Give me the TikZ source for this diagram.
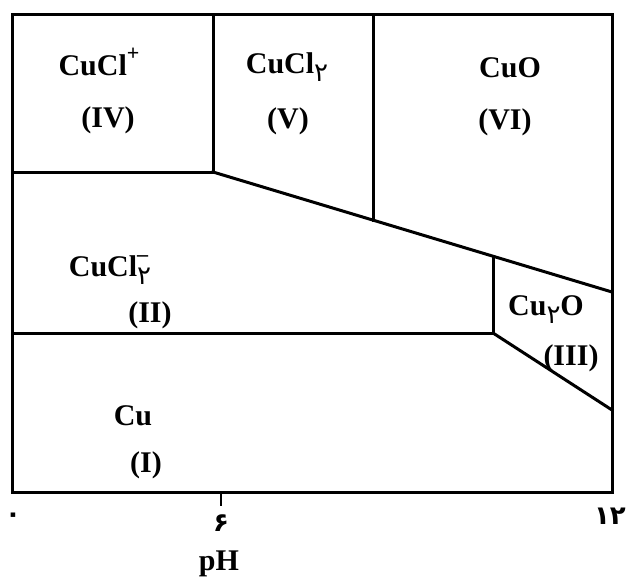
\documentclass[tikz,border=0pt]{standalone}
\usepackage{fontspec}
\setmainfont{Liberation Serif}
\newfontfamily\fa{DejaVu Sans}
\newcommand\persub[1]{\raisebox{-0.28em}{\fa\mdseries\fontsize{26}{26}\selectfont #1}}
\newcommand\persup[1]{\raisebox{0.5em}{\fontsize{22}{22}\selectfont #1}}
\tikzset{
  bnd/.style={line width=3pt, line cap=rect, line join=miter},
  lab/.style={font=\bfseries\fontsize{30}{32}\selectfont, inner sep=0pt, anchor=base},
  tick/.style={font=\fa\bfseries\fontsize{26}{28}\selectfont, inner sep=0pt, anchor=base},
}
\begin{document}
\begin{tikzpicture}[x=1pt,y=-1pt]
\useasboundingbox (0,0) rectangle (626,576);
% frame corners
\coordinate (tl) at (12,14);
\coordinate (tr) at (612,14);
\coordinate (br) at (612,492);
\coordinate (bl) at (12,492);
% internal vertices
\coordinate (a) at (213,14);
\coordinate (b) at (213,172);
\coordinate (l1) at (12,172);
\coordinate (c) at (373,14);
\coordinate (cs) at (373,220);
\coordinate (r1) at (612,292);
\coordinate (d) at (493,256);
\coordinate (e) at (493,333);
\coordinate (l2) at (12,333);
\coordinate (r2) at (612,410);
\coordinate (t6a) at (221,492);
\coordinate (t6b) at (221,506);
% boundaries
\draw[bnd] (tl) -- (tr) -- (br) -- (bl) -- cycle;
\draw[bnd] (a) -- (b) -- (l1);
\draw[bnd] (b) -- (r1);
\draw[bnd] (c) -- (cs);
\draw[bnd] (d) -- (e) -- (l2);
\draw[bnd] (e) -- (r2);
\draw[line width=1.5pt] (t6a) -- (t6b);
% labels
\node[lab] (n4) at (99,75) {CuCl\persup{+}};
\node[lab] (r4) at (108,127) {(IV)};
\node[lab] (n5) at (287,73) {CuCl\persub{۲}};
\node[lab] (r5) at (288,128) {(V)};
\node[lab] (n6) at (510,77) {CuO};
\node[lab] (r6) at (505,129) {(VI)};
\node[lab] (n2) at (110,276) {CuCl\rlap{\persup{–}}\persub{۲}};
\node[lab] (r2l) at (150,322) {(II)};
\node[lab] (n3) at (546,315) {Cu\persub{۲}O};
\node[lab] (r3) at (571,365) {(III)};
\node[lab] (n1) at (133,425) {Cu};
\node[lab] (r1l) at (146,472) {(I)};
% axis
\node[tick] (x0) at (13,522) {۰};
\node[tick] (x6) at (221,531) {۶};
\node[tick] (x12) at (610,524) {۱۲};
\node[lab] (ph) at (219,570) {pH};
\end{tikzpicture}
\end{document}
